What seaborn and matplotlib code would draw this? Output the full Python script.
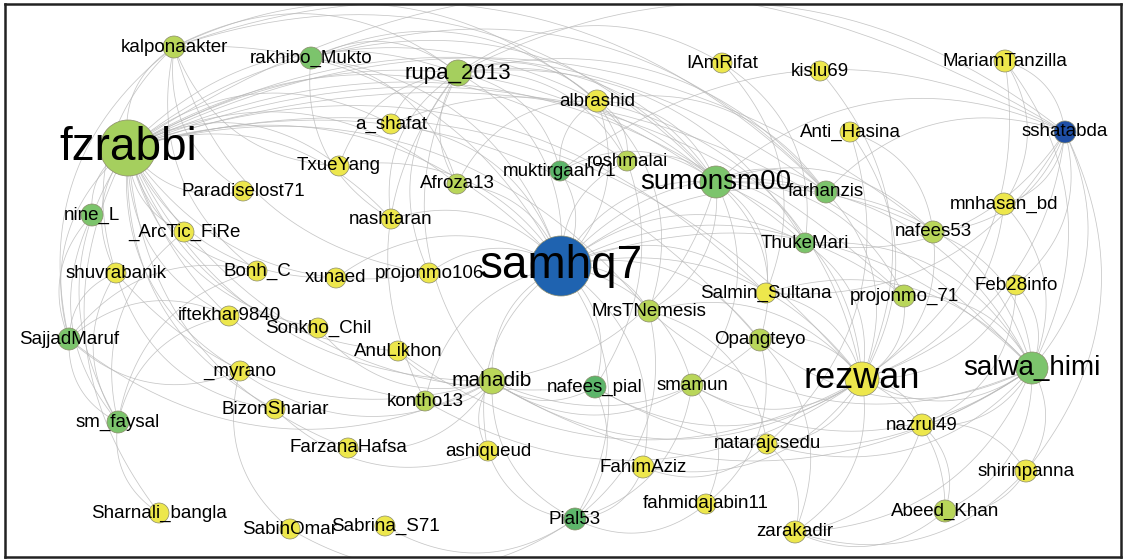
import numpy as np
import pandas as pd
import matplotlib
matplotlib.use("Agg")
import matplotlib.pyplot as plt
from matplotlib.collections import LineCollection
import seaborn as sns

# node table: name, x, y (pixel positions of the layout), radius, colour group, label size
names = ["fzrabbi", "kalponaakter", "rakhibo_Mukto", "rupa_2013", "a_shafat", "TxueYang",
         "Paradiselost71", "nine_L", "_ArcTic_FiRe", "shuvrabanik", "Bonh_C", "xunaed",
         "projonmo106", "Afroza13", "nashtaran", "albrashid", "muktirgaah71", "roshmalai",
         "sumonsm00", "IAmRifat", "kislu69", "MariamTanzilla", "Anti_Hasina", "sshatabda",
         "farhanzis", "mnhasan_bd", "nafees53", "ThukeMari", "samhq7", "Salmin_Sultana",
         "MrsTNemesis", "projonmo_71", "Feb28info", "Opangteyo", "salwa_himi", "rezwan",
         "SajjadMaruf", "iftekhar9840", "Sonkho_Chil", "AnuLikhon", "_myrano", "mahadib",
         "kontho13", "nafees_pial", "smamun", "sm_faysal", "BizonShariar", "FarzanaHafsa",
         "ashiqueud", "FahimAziz", "natarajcsedu", "nazrul49", "shirinpanna", "fahmidajabin11",
         "Abeed_Khan", "zarakadir", "Pial53", "Sharnali_bangla", "SabihOmar", "Sabrina_S71"]
node_x = [128, 174, 311, 458, 391, 339, 243, 92, 184, 116, 257, 336,
          429, 457, 391, 597, 560, 627, 716, 722, 820, 1005, 850, 1065,
          826, 1004, 933, 805, 561, 766, 649, 904, 1016, 760, 1032, 862,
          69, 229, 318, 398, 240, 492, 425, 595, 692, 118, 275, 348,
          488, 643, 767, 922, 1026, 706, 945, 795, 575, 159, 290, 385]
node_y = [147, 46, 57, 72, 123, 165, 190, 214, 231, 272, 270, 277,
          272, 183, 218, 100, 170, 160, 181, 62, 70, 60, 131, 131,
          191, 203, 231, 242, 265, 292, 310, 295, 284, 339, 367, 378,
          338, 315, 327, 350, 370, 380, 400, 386, 384, 421, 408, 447,
          450, 466, 443, 424, 470, 503, 510, 531, 518, 512, 528, 525]
radius = [28, 11, 11, 13, 10, 10, 10, 11, 10, 10, 10, 10,
          10, 10, 10, 11, 10, 10, 16, 10, 10, 11, 10, 11,
          11, 11, 11, 10, 30, 10, 11, 11, 10, 11, 16, 17,
          11, 10, 10, 10, 10, 13, 10, 11, 11, 11, 10, 10,
          10, 11, 10, 11, 11, 10, 11, 11, 11, 10, 10, 10]
group = ["lightgreen", "olive", "green", "lightgreen", "yellow", "yellow",
         "yellow", "green", "yellow", "yellow", "yellow", "yellow",
         "yellow", "olive", "yellow", "yellow", "darkgreen", "olive",
         "green", "yellow", "yellow", "yellow", "yellow", "navy",
         "green", "yellow", "olive", "green", "blue", "yellow",
         "olive", "olive", "yellow", "olive", "green", "yellow",
         "green", "yellow", "yellow", "yellow", "yellow", "olive",
         "olive", "darkgreen", "olive", "green", "yellow", "yellow",
         "yellow", "yellow", "yellow", "yellow", "yellow", "yellow",
         "olive", "yellow", "darkgreen", "yellow", "yellow", "yellow"]
big_labels = {"fzrabbi": 33, "samhq7": 33, "rezwan": 26, "sumonsm00": 20,
              "salwa_himi": 20, "rupa_2013": 16, "mahadib": 15}

# edges (who is linked to whom), grouped by the hub they start from
links = {
    "fzrabbi": ["nine_L", "_ArcTic_FiRe", "shuvrabanik", "SajjadMaruf", "sm_faysal", "Bonh_C",
                "xunaed", "iftekhar9840", "Sonkho_Chil", "_myrano", "BizonShariar", "Paradiselost71",
                "kalponaakter", "rupa_2013", "samhq7", "sumonsm00", "rezwan", "salwa_himi",
                "mahadib", "projonmo106", "AnuLikhon", "nashtaran", "Afroza13", "TxueYang",
                "FarzanaHafsa", "kontho13", "MrsTNemesis", "nafees_pial", "Salmin_Sultana",
                "ThukeMari", "farhanzis", "sshatabda", "Sharnali_bangla", "Opangteyo", "projonmo_71",
                "albrashid", "roshmalai", "a_shafat", "nafees53"],
    "samhq7": ["rupa_2013", "albrashid", "muktirgaah71", "roshmalai", "sumonsm00", "Afroza13",
               "nashtaran", "projonmo106", "mahadib", "nafees_pial", "MrsTNemesis", "Pial53",
               "rezwan", "salwa_himi", "ThukeMari", "farhanzis", "nafees53", "Salmin_Sultana",
               "kontho13", "ashiqueud", "FahimAziz", "Opangteyo", "smamun", "xunaed",
               "a_shafat", "rakhibo_Mukto", "kalponaakter", "projonmo_71", "TxueYang"],
    "rezwan": ["salwa_himi", "sumonsm00", "nafees53", "projonmo_71", "ThukeMari", "Salmin_Sultana",
               "Opangteyo", "MrsTNemesis", "smamun", "nazrul49", "zarakadir", "Abeed_Khan",
               "natarajcsedu", "FahimAziz", "farhanzis", "Anti_Hasina", "sshatabda", "mnhasan_bd",
               "Feb28info", "albrashid", "mahadib", "nafees_pial", "kislu69", "AnuLikhon", "kontho13"],
    "salwa_himi": ["sshatabda", "Feb28info", "mnhasan_bd", "nafees53", "projonmo_71", "shirinpanna",
                   "Abeed_Khan", "zarakadir", "MariamTanzilla", "sumonsm00", "ThukeMari", "farhanzis",
                   "nazrul49", "Salmin_Sultana", "Opangteyo", "smamun", "mahadib", "nafees_pial",
                   "natarajcsedu", "MrsTNemesis"],
    "sumonsm00": ["albrashid", "roshmalai", "muktirgaah71", "farhanzis", "ThukeMari", "nafees53",
                  "sshatabda", "MrsTNemesis", "Salmin_Sultana", "rupa_2013", "Opangteyo",
                  "projonmo_71", "mahadib", "smamun", "kalponaakter", "rakhibo_Mukto", "a_shafat"],
    "sshatabda": ["farhanzis", "nafees53", "mnhasan_bd", "ThukeMari", "MariamTanzilla", "Feb28info",
                  "shirinpanna", "muktirgaah71", "Salmin_Sultana", "rupa_2013"],
    "rupa_2013": ["albrashid", "a_shafat", "Afroza13", "kalponaakter", "rakhibo_Mukto", "TxueYang",
                  "roshmalai", "muktirgaah71", "mahadib", "nashtaran", "ThukeMari", "farhanzis",
                  "projonmo106", "kontho13", "IAmRifat"],
    "albrashid": ["roshmalai", "muktirgaah71", "kalponaakter", "rakhibo_Mukto", "MrsTNemesis",
                  "nafees_pial", "Afroza13", "farhanzis"],
    "mahadib": ["kontho13", "nafees_pial", "smamun", "Pial53", "ashiqueud", "AnuLikhon", "Sonkho_Chil",
                "_myrano", "SajjadMaruf", "Opangteyo", "shuvrabanik", "FarzanaHafsa"],
    "Pial53": ["FahimAziz", "nafees_pial", "SabihOmar", "ashiqueud", "smamun", "MrsTNemesis",
               "Sabrina_S71", "fahmidajabin11"],
    "zarakadir": ["shirinpanna", "nazrul49", "Abeed_Khan", "Opangteyo", "natarajcsedu"],
    "SajjadMaruf": ["shuvrabanik", "sm_faysal", "iftekhar9840", "nine_L", "kalponaakter", "Bonh_C", "_myrano"],
    "sm_faysal": ["nine_L", "shuvrabanik", "_ArcTic_FiRe", "Bonh_C", "iftekhar9840", "Sharnali_bangla"],
    "kalponaakter": ["TxueYang", "Bonh_C", "Paradiselost71", "projonmo106", "shuvrabanik", "farhanzis"],
    "rakhibo_Mukto": ["farhanzis", "Afroza13", "nashtaran"],
    "MariamTanzilla": ["mnhasan_bd", "rezwan"],
    "Anti_Hasina": ["nafees53", "natarajcsedu"],
    "IAmRifat": ["ThukeMari", "Salmin_Sultana"],
    "Abeed_Khan": ["shirinpanna", "nazrul49"],
    "natarajcsedu": ["FahimAziz", "MrsTNemesis"],
    "nazrul49": ["shirinpanna", "Feb28info"],
    "BizonShariar": ["shuvrabanik", "ashiqueud"],
    "SabihOmar": ["_myrano"],
    "fahmidajabin11": ["smamun", "Opangteyo"],
}

palette = {"yellow": "#ede74c", "olive": "#b9d65a", "lightgreen": "#a5cf5e", "green": "#7cc46c",
           "darkgreen": "#5db56a", "blue": "#1f63b0", "navy": "#1f4fa6"}

nodes = pd.DataFrame({"name": names, "x": node_x, "y": node_y, "r": radius, "group": group})
pos = {n: (x, y) for n, x, y in zip(names, node_x, node_y)}

sns.set_style("white")
plt.rcParams["font.family"] = ["Liberation Sans", "DejaVu Sans"]

fig = plt.figure(figsize=(11.27, 5.60), dpi=100)
ax = fig.add_axes([5 / 1127, 3 / 560, 1116 / 1127, 553 / 560])

# curved edges: quadratic bezier bowing away from the middle of the layout
mid = np.array([np.mean(node_x), np.mean(node_y)])
segs = []
t = np.linspace(0, 1, 40)[:, None]
for src, targets in links.items():
    for dst in targets:
        p0 = np.array(pos[src], float)
        p2 = np.array(pos[dst], float)
        d = p2 - p0
        perp = np.array([-d[1], d[0]])
        if np.dot(perp, (p0 + p2) / 2 - mid) < 0:
            perp = -perp
        ctrl = (p0 + p2) / 2 + 0.32 * perp
        segs.append((1 - t) ** 2 * p0 + 2 * (1 - t) * t * ctrl + t ** 2 * p2)
ax.add_collection(LineCollection(segs, colors="#b8b8b8", linewidths=0.55, alpha=0.8, zorder=1))

sizes = {r: (2 * r * 0.72) ** 2 for r in sorted(set(radius))}
sns.scatterplot(data=nodes, x="x", y="y", hue="group", palette=palette, size="r", sizes=sizes,
                edgecolor="#8a8a6a", linewidth=0.5, legend=False, ax=ax, zorder=2)

for n, x, y in zip(names, node_x, node_y):
    ax.text(x, y, n, ha="center", va="center", fontsize=big_labels.get(n, 13.5),
            color="black", zorder=3)

ax.set_xlim(5, 1121)
ax.set_ylim(556, 3)
ax.set_xticks([])
ax.set_yticks([])
ax.set_xlabel("")
ax.set_ylabel("")
for s in ax.spines.values():
    s.set_visible(True)
    s.set_color("#222222")
    s.set_linewidth(1.8)

fig.savefig("out.png", dpi=100)
